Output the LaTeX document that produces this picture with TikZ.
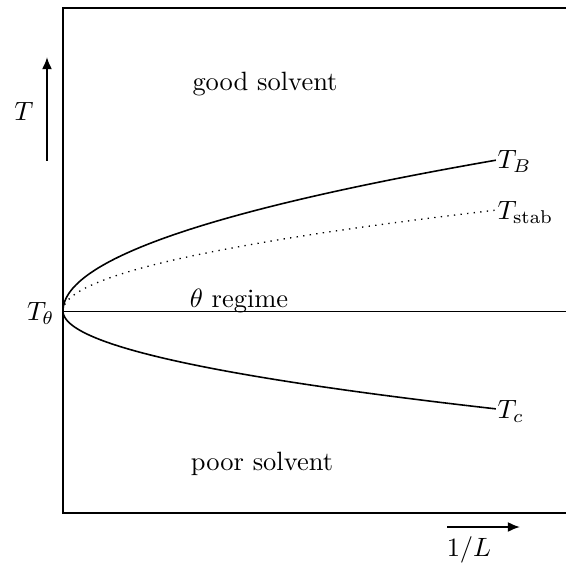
\documentclass[tikz,border=0pt]{standalone}
\usetikzlibrary{arrows.meta}
\begin{document}
\begin{tikzpicture}[x=0.3778pt,y=-0.3778pt,
  frame/.style={line width=0.7pt},
  axarrow/.style={line width=0.7pt,-{Latex[length=4.6pt,width=3.8pt]}},
  curve/.style={line width=0.6pt},
  lbl/.style={inner sep=0pt}]
\useasboundingbox (0,0) rectangle (566,563);
% frame
\coordinate (tl) at (63,8);
\coordinate (bl) at (63,513);
\coordinate (tr) at (575,8);
\coordinate (br) at (575,513);
\draw[frame] (tr) -- (tl) -- (bl) -- (br);
% axis arrows
\coordinate (ts) at (47,161);
\coordinate (te) at (47,57);
\draw[axarrow] (ts) -- (te);
\node[lbl] (T) at (24,111) {$T$};
\coordinate (ls) at (447,527);
\coordinate (le) at (520,527);
\draw[axarrow] (ls) -- (le);
\node[lbl] (L) at (469,550) {$1/L$};
% theta line
\coordinate (th) at (63,311);
\coordinate (thr) at (575,311);
\draw[line width=0.3pt] (th) -- (thr);
\node[lbl,anchor=east] (Ttheta) at (55,313) {$T_\theta$};
\node[lbl] (regime) at (239,301) {$\theta$ regime};
% curves
\draw[curve] plot[domain=0:1,samples=120] ({63+434*\x*\x},{311-151*\x});
\draw[line width=0.5pt,dotted] plot[domain=0:1,samples=120] ({63+434*\x*\x},{311-101*\x});
\draw[curve] plot[domain=0:1,samples=120] ({63+434*\x*\x},{311+98*\x});
\node[lbl,anchor=west] (TB) at (497,161) {$T_B$};
\node[lbl,anchor=west] (Tstab) at (497,212) {$T_{\mathrm{stab}}$};
\node[lbl,anchor=west] (Tc) at (497,411) {$T_c$};
% region labels
\node[lbl] (good) at (265,84) {good solvent};
\node[lbl] (poor) at (262,464) {poor solvent};
\end{tikzpicture}
\end{document}
